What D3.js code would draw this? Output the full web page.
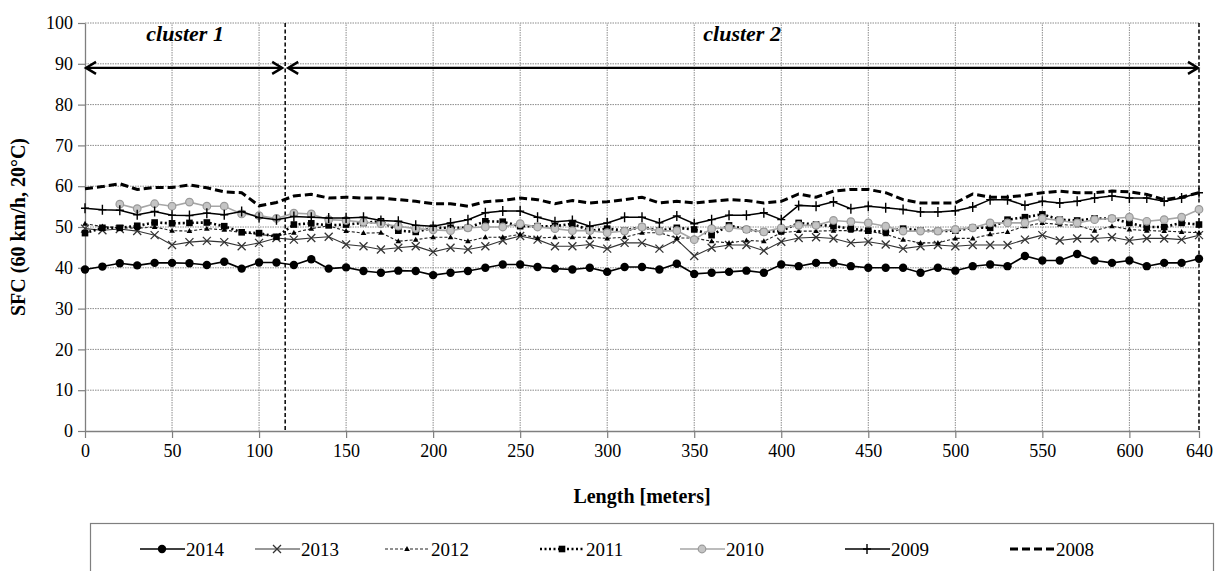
<!DOCTYPE html>
<html>
<head>
<meta charset="utf-8">
<script src="https://cdn.jsdelivr.net/npm/d3@7"></script>
<style>
  body { margin: 0; background: #fff; }
  svg, svg text { font-family: "Liberation Serif", "DejaVu Serif", "Times New Roman", serif; }
</style>
</head>
<body>
<svg id="chart" width="1219" height="571"></svg>
<script>
// distance along the section, every 10 m
var lengths = [0, 10, 20, 30, 40, 50, 60, 70, 80, 90, 100, 110, 120, 130, 140, 150,
  160, 170, 180, 190, 200, 210, 220, 230, 240, 250, 260, 270, 280, 290, 300,
  310, 320, 330, 340, 350, 360, 370, 380, 390, 400, 410, 420, 430, 440, 450,
  460, 470, 480, 490, 500, 510, 520, 530, 540, 550, 560, 570, 580, 590, 600, 610, 620, 630, 640];

var sfc2014 = [39.6, 40.3, 41.1, 40.6, 41.2, 41.2, 41.1, 40.7, 41.5, 39.8, 41.3, 41.3, 40.7, 42.1, 39.8, 40.1,
  39.2, 38.8, 39.3, 39.2, 38.2, 38.8, 39.2, 40.0, 40.8, 40.8, 40.2, 39.8, 39.6, 40.0, 39.0,
  40.2, 40.2, 39.6, 41.0, 38.5, 38.8, 39.0, 39.3, 38.8, 40.8, 40.4, 41.2, 41.2, 40.4, 40.0,
  40.0, 40.0, 38.8, 40.0, 39.3, 40.4, 40.8, 40.4, 42.9, 41.8, 41.8, 43.4, 41.8, 41.2, 41.8, 40.4, 41.2, 41.2, 42.2];
var sfc2013 = [49.6, 49.2, 49.5, 49.0, 48.0, 45.6, 46.3, 46.6, 46.3, 45.3, 46.1, 47.3, 46.9, 47.3, 47.6, 45.7,
  45.3, 44.5, 44.9, 45.3, 43.9, 44.9, 44.5, 45.3, 46.7, 47.8, 46.9, 45.3, 45.3, 45.7, 44.7,
  46.1, 46.1, 44.7, 46.9, 42.9, 44.9, 45.6, 45.6, 44.2, 46.4, 47.3, 47.5, 47.2, 46.1, 46.4,
  45.7, 44.7, 45.3, 45.6, 45.3, 45.6, 45.6, 45.6, 46.9, 48.0, 46.7, 47.2, 47.2, 47.5, 46.7, 47.2, 47.2, 46.9, 48.0];
var sfc2012 = [50.8, 50.1, 49.8, 49.7, 50.0, 49.1, 49.0, 49.6, 49.3, 48.6, 48.2, 47.7, 48.6, 49.6, 50.3, 49.0,
  48.5, 48.6, 46.5, 46.9, 47.5, 47.5, 46.5, 47.5, 47.5, 48.2, 47.3, 47.5, 47.5, 47.5, 47.2,
  47.5, 48.6, 48.6, 47.3, 47.3, 46.5, 46.1, 46.7, 46.5, 48.6, 49.0, 49.0, 49.1, 49.1, 49.0,
  48.2, 46.9, 46.1, 46.1, 47.2, 47.2, 48.2, 48.8, 50.2, 51.0, 50.6, 50.4, 49.1, 50.2, 49.4, 49.1, 49.0, 48.8, 48.6];
var sfc2011 = [48.5, 49.8, 49.8, 50.3, 51.1, 50.9, 51.0, 51.1, 50.2, 48.7, 48.5, 47.6, 50.6, 50.9, 50.4, 50.6,
  51.0, 51.4, 49.1, 48.8, 49.8, 49.8, 49.8, 51.4, 51.3, 50.2, 50.2, 50.2, 50.8, 49.1, 49.6,
  49.1, 50.0, 49.1, 49.8, 49.4, 48.0, 50.4, 49.4, 48.8, 49.0, 51.0, 50.6, 50.2, 49.6, 49.1,
  48.8, 49.6, 49.1, 49.0, 49.1, 49.8, 49.8, 51.8, 52.4, 53.1, 51.8, 51.6, 52.1, 52.1, 51.0, 50.0, 50.0, 51.0, 50.6];
var sfc2010 = [null, null, 55.6, 54.5, 55.7, 55.1, 56.1, 55.1, 55.1, 53.2, 52.8, 52.1, 53.4, 53.2, 51.8, 51.6,
  51.2, 50.8, 50.2, 49.6, 49.3, 49.1, 49.8, 50.0, 50.0, 50.8, 50.0, 49.6, 49.1, 49.1, 48.6,
  49.0, 50.0, 49.0, 49.1, 46.9, 49.6, 49.8, 49.4, 48.8, 49.8, 50.4, 50.4, 51.6, 51.3, 51.0,
  50.2, 49.0, 49.0, 49.0, 49.4, 49.8, 51.0, 51.0, 51.0, 52.1, 51.6, 51.0, 51.8, 52.1, 52.4, 51.4, 51.8, 52.4, 54.3];
var sfc2009 = [54.6, 54.2, 54.1, 53.0, 53.8, 52.9, 52.8, 53.4, 53.0, 53.8, 52.3, 51.8, 52.6, 52.4, 52.2, 52.2,
  52.4, 51.6, 51.4, 50.4, 50.2, 51.0, 51.8, 53.5, 53.9, 53.9, 52.4, 51.3, 51.6, 50.2, 51.0,
  52.4, 52.4, 51.0, 52.7, 50.8, 51.8, 52.9, 52.9, 53.5, 51.8, 55.3, 55.1, 56.2, 54.5, 55.1,
  54.7, 54.3, 53.7, 53.7, 54.0, 54.9, 56.7, 56.7, 55.3, 56.3, 55.9, 56.3, 57.1, 57.6, 57.1, 57.1, 56.3, 57.1, 58.4];
var sfc2008 = [59.4, 59.9, 60.6, 59.2, 59.7, 59.7, 60.3, 59.6, 58.6, 58.4, 55.2, 56.0, 57.6, 58.0, 57.1, 57.3,
  57.1, 57.1, 56.7, 56.3, 55.7, 55.7, 55.1, 56.2, 56.5, 57.1, 56.7, 55.7, 56.5, 55.9, 56.2,
  56.7, 57.3, 55.9, 56.3, 55.9, 56.3, 56.7, 56.5, 55.9, 56.3, 58.1, 57.3, 58.8, 59.2, 59.2,
  58.4, 56.7, 55.9, 55.9, 55.9, 58.1, 57.3, 57.3, 57.8, 58.4, 58.8, 58.4, 58.4, 58.8, 58.6, 58.0, 56.7, 57.3, 58.4];

var yTicks = [0, 10, 20, 30, 40, 50, 60, 70, 80, 90, 100];
var xTicks = [0, 50, 100, 150, 200, 250, 300, 350, 400, 450, 500, 550, 600, 640];
var clusterBreaks = [0, 115, 640];
var clusterNames = ["cluster 1", "cluster 2"];

var FONT = "'Liberation Serif', 'DejaVu Serif', 'Times New Roman', serif";

var series = [
  {name: "2014", values: sfc2014, color: "#000", width: 1.6, dash: null, marker: "circle"},
  {name: "2013", values: sfc2013, color: "#333", width: 1.1, dash: null, marker: "times"},
  {name: "2012", values: sfc2012, color: "#222", width: 1.1, dash: "3,2", marker: "triangle"},
  {name: "2011", values: sfc2011, color: "#000", width: 2.6, dash: "2,2.5", marker: "square"},
  {name: "2010", values: sfc2010, color: "#a6a6a6", width: 1.6, dash: null, marker: "gcircle"},
  {name: "2009", values: sfc2009, color: "#000", width: 1.5, dash: null, marker: "plus"},
  {name: "2008", values: sfc2008, color: "#000", width: 3, dash: "8,4", marker: null}
];

var svg = d3.select("#chart");
var x = d3.scaleLinear().domain([0, 640]).range([85, 1199]);
var y = d3.scaleLinear().domain([0, 100]).range([431, 23]);

svg.append("rect").attr("width", 1219).attr("height", 571).attr("fill", "#fff");

// grid
svg.append("g").selectAll("line").data(yTicks.slice(1)).enter().append("line")
  .attr("x1", x(0)).attr("x2", x(640))
  .attr("y1", function(d) { return y(d); }).attr("y2", function(d) { return y(d); })
  .attr("stroke", "#8c8c8c").attr("stroke-width", 1).attr("stroke-dasharray", "1.5,1");
svg.append("g").selectAll("line").data(xTicks.slice(1, -1)).enter().append("line")
  .attr("x1", function(d) { return x(d); }).attr("x2", function(d) { return x(d); })
  .attr("y1", y(0)).attr("y2", y(100))
  .attr("stroke", "#8c8c8c").attr("stroke-width", 1).attr("stroke-dasharray", "1.5,1");

// axes
var yAxis = svg.append("g").attr("transform", "translate(" + x(0) + ",0)")
  .call(d3.axisLeft(y).tickValues(yTicks).tickSize(7).tickSizeOuter(0).tickPadding(5));
var xAxis = svg.append("g").attr("transform", "translate(0," + y(0) + ")")
  .call(d3.axisBottom(x).tickValues(xTicks).tickSize(7).tickSizeOuter(0).tickPadding(6));
[yAxis, xAxis].forEach(function(a) {
  a.attr("font-family", FONT).attr("font-size", 18);
  a.select(".domain").attr("stroke", "#7f7f7f").attr("stroke-width", 1.3);
  a.selectAll(".tick line").attr("stroke", "#7f7f7f").attr("stroke-width", 1.2);
  a.selectAll(".tick text").attr("fill", "#000");
});

// cluster boundaries
svg.append("g").selectAll("line").data(clusterBreaks.slice(1)).enter().append("line")
  .attr("x1", function(d) { return x(d); }).attr("x2", function(d) { return x(d); })
  .attr("y1", y(100)).attr("y2", y(0))
  .attr("stroke", "#000").attr("stroke-width", 1.5).attr("stroke-dasharray", "4,2.5");

// cluster arrows
var arrowY = y(89);
var clusters = clusterNames.map(function(n, i) {
  return {name: n, from: clusterBreaks[i], to: clusterBreaks[i + 1]};
});
var ag = svg.append("g").attr("stroke", "#000").attr("fill", "none").attr("stroke-width", 2.4);
clusters.forEach(function(c) {
  var x1 = x(c.from) + (c.from > 0 ? 3 : 1), x2 = x(c.to) - (c.to < 640 ? 3 : 1);
  ag.append("line").attr("x1", x1).attr("x2", x2).attr("y1", arrowY).attr("y2", arrowY);
  ag.append("path").attr("d", "M" + (x1 + 10) + "," + (arrowY - 6) + "L" + x1 + "," + arrowY + "L" + (x1 + 10) + "," + (arrowY + 6));
  ag.append("path").attr("d", "M" + (x2 - 10) + "," + (arrowY - 6) + "L" + x2 + "," + arrowY + "L" + (x2 - 10) + "," + (arrowY + 6));
  svg.append("text").attr("x", x((c.from + c.to) / 2)).attr("y", y(95.5))
    .attr("text-anchor", "middle").attr("font-family", FONT).style("font-size", "22px").style("font-weight", "bold")
    .style("font-style", "italic").text(c.name);
});

// axis titles
svg.append("text").attr("transform", "translate(25," + y(50) + ") rotate(-90)")
  .attr("text-anchor", "middle").attr("font-family", FONT).style("font-size", "20px").style("font-weight", "bold")
  .text("SFC (60 km/h, 20°C)");
svg.append("text").attr("x", 642).attr("y", 503).attr("text-anchor", "middle").attr("font-family", FONT)
  .style("font-size", "20px").style("font-weight", "bold").text("Length [meters]");

// markers
function drawMarker(g, type, cx, cy, color) {
  if (type === "circle") {
    g.append("circle").attr("cx", cx).attr("cy", cy).attr("r", 4.2).attr("fill", "#000");
  } else if (type === "gcircle") {
    g.append("circle").attr("cx", cx).attr("cy", cy).attr("r", 3.8)
      .attr("fill", "#c4c4c4").attr("stroke", "#9a9a9a").attr("stroke-width", 1.2);
  } else if (type === "square") {
    g.append("rect").attr("x", cx - 3.3).attr("y", cy - 3.3).attr("width", 6.6).attr("height", 6.6).attr("fill", "#000");
  } else if (type === "triangle") {
    g.append("path").attr("d", "M" + cx + "," + (cy - 3) + "L" + (cx + 2.8) + "," + (cy + 2) + "L" + (cx - 2.8) + "," + (cy + 2) + "Z")
      .attr("fill", "#000");
  } else if (type === "times") {
    g.append("path").attr("d", "M" + (cx - 4) + "," + (cy - 4) + "L" + (cx + 4) + "," + (cy + 4) + "M" + (cx + 4) + "," + (cy - 4) + "L" + (cx - 4) + "," + (cy + 4))
      .attr("stroke", "#333").attr("stroke-width", 1.3);
  } else if (type === "plus") {
    g.append("path").attr("d", "M" + cx + "," + (cy - 5) + "L" + cx + "," + (cy + 5) + "M" + (cx - 4) + "," + cy + "L" + (cx + 4) + "," + cy)
      .attr("stroke", "#000").attr("stroke-width", 1.4);
  }
}

var line = d3.line()
  .defined(function(d) { return d[1] != null; })
  .x(function(d) { return x(d[0]); })
  .y(function(d) { return y(d[1]); });

series.forEach(function(s) {
  var pts = lengths.map(function(l, i) { return [l, s.values[i]]; });
  var g = svg.append("g");
  g.append("path").datum(pts).attr("d", line).attr("fill", "none")
    .attr("stroke", s.color).attr("stroke-width", s.width)
    .attr("stroke-dasharray", s.dash);
  if (s.marker) {
    pts.forEach(function(p) {
      if (p[1] != null) drawMarker(g, s.marker, x(p[0]), y(p[1]), s.color);
    });
  }
});

// legend
svg.append("rect").attr("x", 90.5).attr("y", 523.5).attr("width", 1123).attr("height", 70)
  .attr("fill", "#fff").attr("stroke", "#7f7f7f").attr("stroke-width", 1.2);
var legendX = [140, 255, 385, 540, 680, 845, 1010];
var legendY = 549;
series.forEach(function(s, i) {
  var g = svg.append("g");
  var lx = legendX[i];
  g.append("line").attr("x1", lx).attr("x2", lx + 45).attr("y1", legendY).attr("y2", legendY)
    .attr("stroke", s.color).attr("stroke-width", s.width).attr("stroke-dasharray", s.dash);
  if (s.marker) drawMarker(g, s.marker, lx + 22, legendY, s.color);
  g.append("text").attr("x", lx + 46).attr("y", legendY + 7).attr("font-family", FONT)
    .style("font-size", "19px").text(s.name);
});
</script>
</body>
</html>
